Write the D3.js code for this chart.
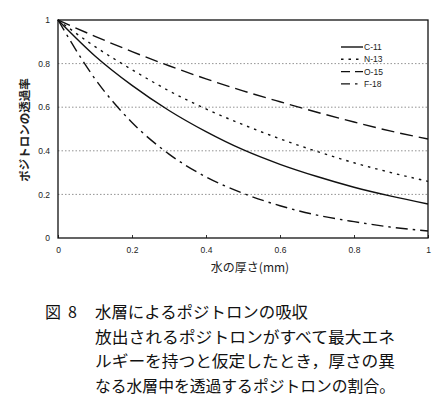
<!DOCTYPE html>
<html>
<head>
<meta charset="utf-8">
<script src="https://cdn.jsdelivr.net/npm/d3@7"></script>
<style>
  body { margin: 0; background: #fff; }
  svg { display: block; }
</style>
</head>
<body>
<div id="chart"></div>
<script>
const width = 444,
  height = 397;

// water thickness (mm)
const thickness = [0, 0.1, 0.2, 0.3, 0.4, 0.5, 0.6, 0.7, 0.8, 0.9, 1.0];
// transmission fraction
const c11 = [1, 0.835, 0.7, 0.585, 0.488, 0.405, 0.338, 0.282, 0.233, 0.192, 0.156];
const n13 = [1, 0.878, 0.772, 0.675, 0.592, 0.52, 0.455, 0.397, 0.345, 0.3, 0.26];
const o15 = [1, 0.925, 0.855, 0.79, 0.73, 0.675, 0.625, 0.577, 0.532, 0.49, 0.454];
const f18 = [1, 0.73, 0.53, 0.385, 0.28, 0.205, 0.148, 0.105, 0.075, 0.05, 0.032];

const seriesNames = ["C-11", "N-13", "O-15", "F-18"];
const dashes = ["none", "2.5,5", "13,6", "12,5,2.5,5"];
const legendDashes = ["none", "2.5,5", "9,5", "9,5,2.5,6"];

const xTicks = [0, 0.2, 0.4, 0.6, 0.8, 1];
const yTicks = [0, 0.2, 0.4, 0.6, 0.8, 1];
const gridTicks = [0.2, 0.4, 0.6, 0.8];

const captionLines = [
  "水層によるポジトロンの吸収",
  "放出されるポジトロンがすべて最大エネ",
  "ルギーを持つと仮定したとき，厚さの異",
  "なる水層中を透過するポジトロンの割合。"
];

const svg = d3.select("#chart").append("svg").attr("width", width).attr("height", height);

const x = d3.scaleLinear().domain([0, 1]).range([58, 428]);
const y = d3.scaleLinear().domain([0, 1]).range([238, 20]);

const tickFont = "'Liberation Sans', Arial, sans-serif";
const jpFont = "'Noto Sans CJK JP', sans-serif";

// dotted gridlines
svg
  .append("g")
  .selectAll("line")
  .data(gridTicks)
  .join("line")
  .attr("x1", x(0))
  .attr("x2", x(1))
  .attr("y1", d => y(d))
  .attr("y2", d => y(d))
  .attr("stroke", "#777")
  .attr("stroke-width", 0.8)
  .attr("stroke-dasharray", "1.5,2");

// axes
const xAxis = svg
  .append("g")
  .attr("transform", `translate(0,${y(0)})`)
  .call(d3.axisBottom(x).tickValues(xTicks).tickFormat(d3.format("")).tickSizeInner(-3).tickSizeOuter(0).tickPadding(9));
const yAxis = svg
  .append("g")
  .attr("transform", `translate(${x(0)},0)`)
  .call(d3.axisLeft(y).tickValues(yTicks).tickFormat(d3.format("")).tickSize(0).tickPadding(8));

[xAxis, yAxis].forEach(g => {
  g.select(".domain").remove();
  g.selectAll("text").attr("font-family", tickFont).attr("font-size", 8.5).attr("fill", "#222");
  g.selectAll("line").attr("stroke", "#333");
});

// frame
svg
  .append("rect")
  .attr("x", x(0))
  .attr("y", y(1))
  .attr("width", x(1) - x(0))
  .attr("height", y(0) - y(1))
  .attr("fill", "none")
  .attr("stroke", "#111")
  .attr("stroke-width", 1.3);

// curves
const allSeries = [c11, n13, o15, f18];
const line = d3
  .line()
  .x((d, i) => x(thickness[i]))
  .y(d => y(d))
  .curve(d3.curveMonotoneX);

svg
  .append("g")
  .selectAll("path")
  .data(allSeries)
  .join("path")
  .attr("d", line)
  .attr("fill", "none")
  .attr("stroke", "#111")
  .attr("stroke-width", 1.4)
  .attr("stroke-dasharray", (d, i) => dashes[i]);

// legend
const legend = svg
  .append("g")
  .selectAll("g")
  .data(seriesNames)
  .join("g")
  .attr("transform", (d, i) => `translate(341,${47 + i * 12.3})`);

legend
  .append("line")
  .attr("x1", 0)
  .attr("x2", 22)
  .attr("stroke", "#111")
  .attr("stroke-width", 1.4)
  .attr("stroke-dasharray", (d, i) => legendDashes[i]);

legend
  .append("text")
  .attr("x", 23)
  .attr("dy", "0.35em")
  .attr("font-family", tickFont)
  .attr("font-size", 8.5)
  .attr("fill", "#222")
  .text(d => d);

// axis titles
svg
  .append("text")
  .attr("x", 250)
  .attr("y", 272)
  .attr("text-anchor", "middle")
  .attr("font-family", jpFont)
  .attr("font-size", 12)
  .attr("fill", "#222")
  .text("水の厚さ(mm)");

svg
  .append("text")
  .attr("transform", "translate(29,130) rotate(-90)")
  .attr("text-anchor", "middle")
  .attr("font-family", jpFont)
  .attr("font-size", 11.5)
  .attr("font-weight", "bold")
  .attr("fill", "#222")
  .text("ポジトロンの透過率");

// caption
svg
  .append("text")
  .attr("x", 45)
  .attr("y", 318)
  .attr("font-family", jpFont)
  .attr("font-size", 16)
  .attr("fill", "#111")
  .text("図");

svg
  .append("text")
  .attr("x", 68)
  .attr("y", 318)
  .attr("font-family", jpFont)
  .attr("font-size", 16)
  .attr("fill", "#111")
  .text("8");

svg
  .append("g")
  .selectAll("text")
  .data(captionLines)
  .join("text")
  .attr("x", 95)
  .attr("y", (d, i) => 318 + i * 24.5)
  .attr("font-family", jpFont)
  .attr("font-size", 16)
  .attr("fill", "#111")
  .attr("textLength", (d, i) => (i === 0 ? 213 : 300))
  .attr("lengthAdjust", "spacingAndGlyphs")
  .text(d => d);
</script>
</body>
</html>
